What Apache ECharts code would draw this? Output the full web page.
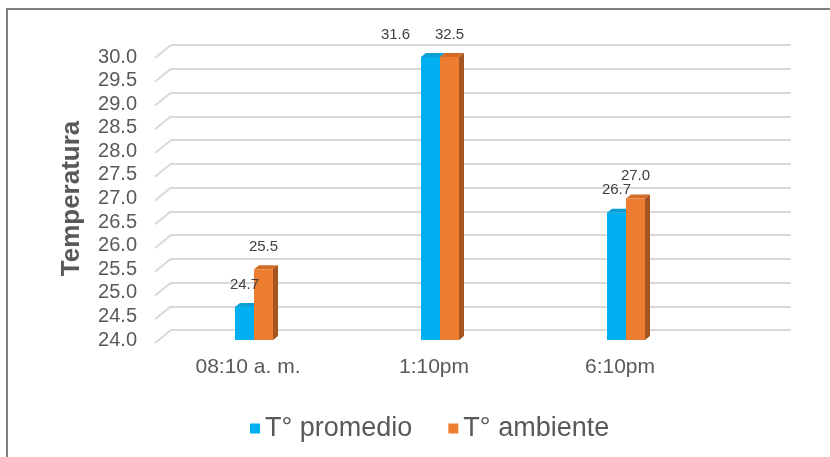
<!DOCTYPE html>
<html>
<head>
<meta charset="utf-8">
<script src="https://cdn.jsdelivr.net/npm/echarts@6/dist/echarts.min.js"></script>
<style>
  html, body { margin: 0; padding: 0; background: #fff; }
  #grafico { width: 830px; height: 457px; }
</style>
</head>
<body>
<div id="grafico"></div>
<script>
// datos
var horas = ['08:10 a. m.', '1:10pm', '6:10pm'];
var tPromedio = [24.7, 31.6, 26.7];
var tAmbiente = [25.5, 32.5, 27.0];
var yTicks = [24.0, 24.5, 25.0, 25.5, 26.0, 26.5, 27.0, 27.5, 28.0, 28.5, 29.0, 29.5, 30.0];
var yMin = 24, yMax = 30;

var fuente = '"Liberation Sans", Arial, sans-serif';
var gris = '#595959';

// barra 3D (cara frontal, superior y lateral); con soloTexto dibuja la etiqueta
function barra3d(lado, frente, arriba, costado, soloTexto) {
  return function (params, api) {
    var idx = api.value(0), v = api.value(1);
    var vis = Math.min(v, yMax);
    var base = api.coord([idx, yMin]);
    var tope = api.coord([idx, vis]);
    var w = 19, dx = 5, dy = 4;
    var x0 = lado < 0 ? base[0] - w : base[0];
    var x1 = x0 + w;
    if (soloTexto) {
      var tx = (x0 + x1) / 2;
      if (v > yMax && lado < 0) tx -= 35;
      return { type: 'text', style: {
        x: tx, y: tope[1] - dy - 11, text: v.toFixed(1), align: 'center', verticalAlign: 'bottom',
        fill: '#404040', font: '15px ' + fuente } };
    }
    var hijos = [
      { type: 'polygon', shape: { points: [[x0, tope[1]], [x0 + dx, tope[1] - dy], [x1 + dx, tope[1] - dy], [x1, tope[1]]] },
        style: { fill: arriba } },
      { type: 'rect', shape: { x: x0, y: tope[1], width: w, height: base[1] - tope[1] },
        style: { fill: frente } }
    ];
    if (costado) {
      hijos.push({ type: 'polygon', shape: { points: [[x1, tope[1]], [x1 + dx, tope[1] - dy], [x1 + dx, base[1] - dy], [x1, base[1]]] },
        style: { fill: costado } });
    }
    return { type: 'group', children: hijos };
  };
}

// segmentos inclinados del piso/pared
function inclinados(params, api) {
  var p = api.coord([0, api.value(0)]);
  var x = params.coordSys.x;
  return { type: 'line', shape: { x1: x - 16, y1: p[1] + 13, x2: x, y2: p[1] },
    style: { stroke: '#d9d9d9', lineWidth: 2 } };
}

function pares(arr) { return arr.map(function (v, i) { return [i, v]; }); }

var grafico = echarts.init(document.getElementById('grafico'));
grafico.setOption({
  animation: false,
  textStyle: { fontFamily: fuente },
  graphic: [{
    type: 'polyline', shape: { points: [[7, 457], [7, 9], [830, 9]] },
    style: { stroke: '#7f7f7f', lineWidth: 2, fill: null }, silent: true
  }],
  legend: {
    left: 245, top: 410, itemWidth: 10, itemHeight: 10, itemGap: 36, icon: 'rect',
    textStyle: { fontSize: 27, color: gris, fontFamily: fuente },
    data: ['T° promedio', 'T° ambiente']
  },
  grid: [
    { left: 171, right: 39, top: 45, bottom: 127 },
    { left: 161, right: 111, top: 57, bottom: 117 }
  ],
  xAxis: [
    { gridIndex: 0, type: 'value', min: 0, max: 1, show: false },
    { gridIndex: 1, type: 'category', data: horas,
      axisLine: { show: false }, axisTick: { show: false },
      axisLabel: { margin: 17, fontSize: 21, color: gris, fontFamily: fuente, padding: [0, 12, 0, 0] } }
  ],
  yAxis: [
    { gridIndex: 0, type: 'value', min: yMin, max: yMax, interval: 0.5,
      axisLabel: { show: false }, axisLine: { show: false }, axisTick: { show: false },
      splitLine: { lineStyle: { color: '#d9d9d9', width: 2 } } },
    { gridIndex: 1, type: 'value', min: yMin, max: yMax, interval: 0.5,
      name: 'Temperatura', nameLocation: 'middle', nameRotate: 90, nameGap: 76,
      nameTextStyle: { fontSize: 26, fontWeight: 'bold', color: gris, fontFamily: fuente },
      axisLine: { show: false }, axisTick: { show: false }, splitLine: { show: false },
      axisLabel: { margin: 24, fontSize: 20, color: gris, fontFamily: fuente,
        formatter: function (v) { return v.toFixed(1); } } }
  ],
  series: [
    { type: 'custom', xAxisIndex: 0, yAxisIndex: 0, silent: true,
      data: yTicks.map(function (t) { return [t]; }),
      encode: { y: 0 }, renderItem: inclinados },
    { name: 'T° promedio', type: 'custom', xAxisIndex: 1, yAxisIndex: 1,
      itemStyle: { color: '#00b0f0' }, clip: false,
      data: pares(tPromedio), encode: { x: 0, y: 1 },
      renderItem: barra3d(-1, '#00b0f0', '#0b9fd5', null) },
    { name: 'T° ambiente', type: 'custom', xAxisIndex: 1, yAxisIndex: 1,
      itemStyle: { color: '#ed7d31' }, clip: false,
      data: pares(tAmbiente), encode: { x: 0, y: 1 },
      renderItem: barra3d(1, '#ed7d31', '#d26c27', '#a5541f') },
    // etiquetas encima de las barras
    { type: 'custom', xAxisIndex: 1, yAxisIndex: 1, clip: false, silent: true, z: 5,
      data: pares(tPromedio), encode: { x: 0, y: 1 },
      renderItem: barra3d(-1, null, null, null, true) },
    { type: 'custom', xAxisIndex: 1, yAxisIndex: 1, clip: false, silent: true, z: 5,
      data: pares(tAmbiente), encode: { x: 0, y: 1 },
      renderItem: barra3d(1, null, null, null, true) }
  ]
});
window.onresize = grafico.resize;
</script>
</body>
</html>
